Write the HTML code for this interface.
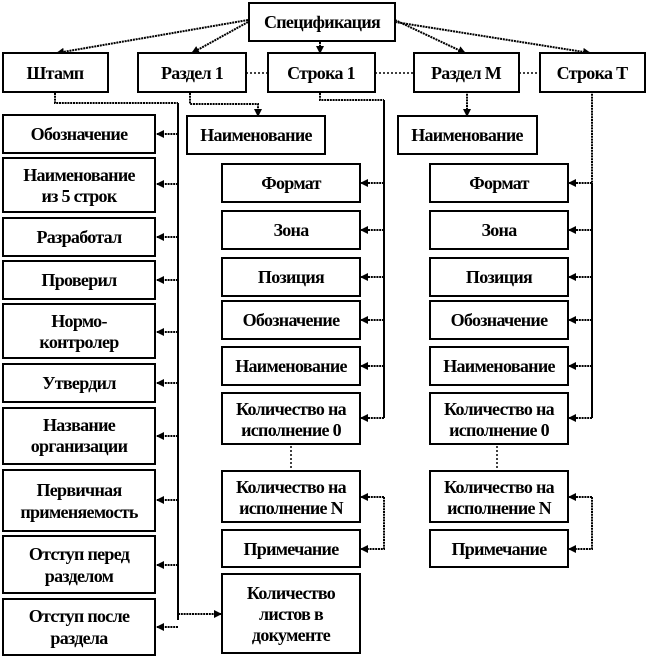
<!DOCTYPE html>
<html><head><meta charset="utf-8"><style>
html,body{margin:0;padding:0;background:#fff;}
svg{display:block;}
text{font-family:"Liberation Serif",serif;font-weight:bold;font-size:18px;text-anchor:middle;fill:#000;letter-spacing:-0.7px;}
.b{fill:#fff;stroke:#000;stroke-width:2;}
.s{fill:none;stroke:#000;stroke-width:2;}
.d{fill:none;stroke:#000;stroke-width:2;stroke-dasharray:2 0.8;}
</style></head><body>
<svg width="648" height="659" viewBox="0 0 648 659" xmlns="http://www.w3.org/2000/svg">
<defs><marker id="a" markerWidth="8" markerHeight="8" refX="7" refY="4" orient="auto" markerUnits="userSpaceOnUse"><path d="M0,0 L8,4 L0,8 z" fill="#000"/></marker></defs>

<g class="d" marker-end="url(#a)">
<line x1="248" y1="20" x2="57" y2="53"/>
<line x1="248" y1="22" x2="192" y2="53"/>
<line x1="320" y1="42" x2="320" y2="53"/>
<line x1="395" y1="20" x2="465" y2="53"/>
<line x1="395" y1="22" x2="590" y2="53"/>
</g>
<g class="d" style="stroke-dasharray:2 2;stroke-width:1.5">
<line x1="246" y1="73" x2="268" y2="73"/>
<line x1="375" y1="73" x2="414" y2="73"/>
<line x1="519" y1="73" x2="540" y2="73"/>
<line x1="291" y1="446" x2="291" y2="470"/>
<line x1="497" y1="446" x2="497" y2="470"/>
</g>

<path class="d" d="M55 93 V103 H178"/>
<path class="s" d="M178 103 V620"/>
<g class="d" marker-end="url(#a)">
<line x1="178" y1="134" x2="157" y2="134"/>
<line x1="178" y1="184" x2="157" y2="184"/>
<line x1="178" y1="237" x2="157" y2="237"/>
<line x1="178" y1="280" x2="157" y2="280"/>
<line x1="178" y1="332" x2="157" y2="332"/>
<line x1="178" y1="383" x2="157" y2="383"/>
<line x1="178" y1="436" x2="157" y2="436"/>
<line x1="178" y1="500" x2="157" y2="500"/>
<line x1="178" y1="565" x2="157" y2="565"/>
<line x1="178" y1="627" x2="157" y2="627"/>
<line x1="178" y1="614" x2="221" y2="614"/>
</g>
<path class="d" d="M190 93 V104 H258 V116" marker-end="url(#a)"/>
<path class="d" d="M320 93 V100 H384"/>
<path class="s" d="M384 100 V418"/>
<g class="d" marker-end="url(#a)">
<line x1="384" y1="183" x2="361" y2="183"/>
<line x1="384" y1="230" x2="361" y2="230"/>
<line x1="384" y1="277" x2="361" y2="277"/>
<line x1="384" y1="320" x2="361" y2="320"/>
<line x1="384" y1="366" x2="361" y2="366"/>
<line x1="384" y1="418" x2="361" y2="418"/>
<path d="M384 497 V549 H361"/>
<line x1="384" y1="497" x2="361" y2="497"/>
</g>
<path class="d" d="M467 91 V116" marker-end="url(#a)"/>
<path class="d" d="M592 91 V183"/>
<path class="s" d="M592 183 V418"/>
<g class="d" marker-end="url(#a)">
<line x1="592" y1="183" x2="569" y2="183"/>
<line x1="592" y1="230" x2="569" y2="230"/>
<line x1="592" y1="277" x2="569" y2="277"/>
<line x1="592" y1="320" x2="569" y2="320"/>
<line x1="592" y1="366" x2="569" y2="366"/>
<line x1="592" y1="418" x2="569" y2="418"/>
<path d="M592 497 V549 H569"/>
<line x1="592" y1="497" x2="569" y2="497"/>
</g>

<rect class="b" x="249" y="3" width="146" height="38"/><text x="322" y="28">Спецификация</text>
<rect class="b" x="3" y="53" width="105" height="39"/><text x="55" y="79">Штамп</text>
<rect class="b" x="138" y="53" width="108" height="39"/><text x="192" y="79">Раздел 1</text>
<rect class="b" x="268" y="53" width="107" height="39"/><text x="321" y="79">Строка 1</text>
<rect class="b" x="414" y="53" width="105" height="39"/><text x="466" y="79">Раздел М</text>
<rect class="b" x="540" y="53" width="105" height="39"/><text x="592" y="79">Строка Т</text>

<rect class="b" x="187" y="116" width="138" height="38"/><text x="256" y="141">Наименование</text>
<rect class="b" x="398" y="116" width="139" height="38"/><text x="467" y="141">Наименование</text>

<rect class="b" x="3" y="115" width="152" height="38"/><text x="79" y="140">Обозначение</text>
<rect class="b" x="3" y="158" width="152" height="54"/><text x="79" y="181">Наименование</text><text x="79" y="202">из 5 строк</text>
<rect class="b" x="3" y="218" width="152" height="38"/><text x="79" y="243">Разработал</text>
<rect class="b" x="3" y="261" width="152" height="38"/><text x="79" y="286">Проверил</text>
<rect class="b" x="3" y="304" width="152" height="54"/><text x="79" y="327">Нормо-</text><text x="79" y="348">контролер</text>
<rect class="b" x="3" y="364" width="152" height="38"/><text x="79" y="389">Утвердил</text>
<rect class="b" x="3" y="408" width="152" height="56"/><text x="79" y="431">Название</text><text x="79" y="452">организации</text>
<rect class="b" x="3" y="470" width="152" height="61"/><text x="79" y="496">Первичная</text><text x="79" y="518">применяемость</text>
<rect class="b" x="3" y="536" width="152" height="57"/><text x="79" y="560">Отступ перед</text><text x="79" y="582">разделом</text>
<rect class="b" x="3" y="599" width="152" height="56"/><text x="79" y="622">Отступ после</text><text x="79" y="644">раздела</text>

<g>
<rect class="b" x="222" y="164" width="138" height="38"/><text x="291" y="189">Формат</text>
<rect class="b" x="222" y="211" width="138" height="38"/><text x="291" y="236">Зона</text>
<rect class="b" x="222" y="258" width="138" height="38"/><text x="291" y="283">Позиция</text>
<rect class="b" x="222" y="301" width="138" height="38"/><text x="291" y="326">Обозначение</text>
<rect class="b" x="222" y="347" width="138" height="38"/><text x="291" y="372">Наименование</text>
<rect class="b" x="222" y="393" width="138" height="51"/><text x="291" y="415">Количество на</text><text x="291" y="436">исполнение 0</text>
<rect class="b" x="222" y="471" width="138" height="51"/><text x="291" y="493">Количество на</text><text x="291" y="514">исполнение N</text>
<rect class="b" x="222" y="530" width="138" height="37"/><text x="291" y="555">Примечание</text>
<rect class="b" x="222" y="574" width="138" height="79"/><text x="291" y="599">Количество</text><text x="291" y="620">листов в</text><text x="291" y="641">документе</text>
</g>
<g>
<rect class="b" x="430" y="164" width="138" height="38"/><text x="499" y="189">Формат</text>
<rect class="b" x="430" y="211" width="138" height="38"/><text x="499" y="236">Зона</text>
<rect class="b" x="430" y="258" width="138" height="38"/><text x="499" y="283">Позиция</text>
<rect class="b" x="430" y="301" width="138" height="38"/><text x="499" y="326">Обозначение</text>
<rect class="b" x="430" y="347" width="138" height="38"/><text x="499" y="372">Наименование</text>
<rect class="b" x="430" y="393" width="138" height="51"/><text x="499" y="415">Количество на</text><text x="499" y="436">исполнение 0</text>
<rect class="b" x="430" y="471" width="138" height="51"/><text x="499" y="493">Количество на</text><text x="499" y="514">исполнение N</text>
<rect class="b" x="430" y="530" width="138" height="37"/><text x="499" y="555">Примечание</text>
</g>
</svg>
</body></html>
